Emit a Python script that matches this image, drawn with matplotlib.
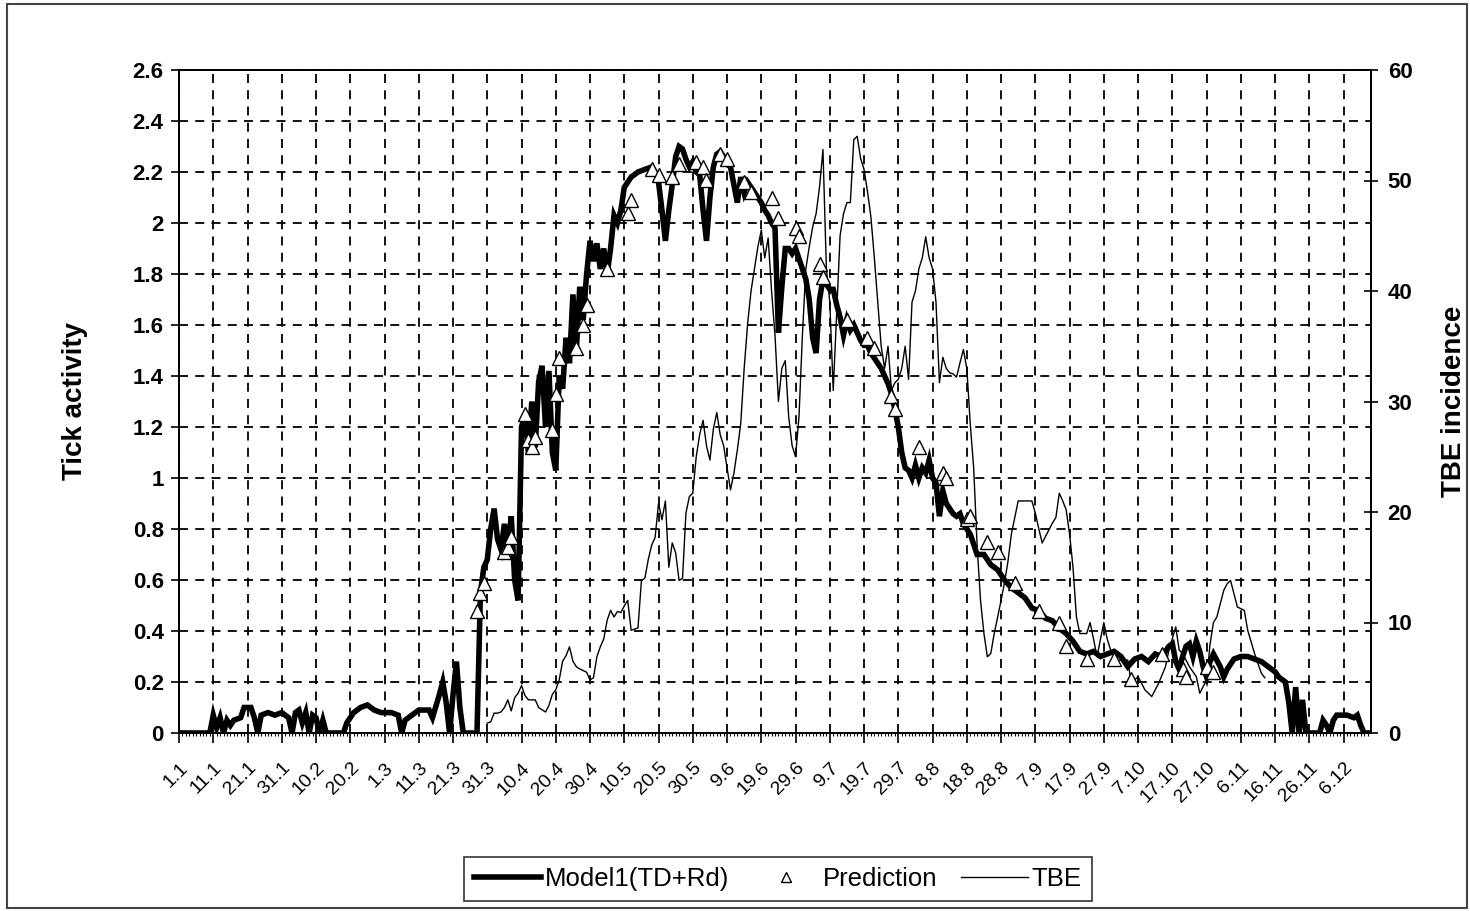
import matplotlib
matplotlib.use("Agg")
import matplotlib.pyplot as plt
from matplotlib.patches import Rectangle
from matplotlib.lines import Line2D

# day index (0 = 1.1) -> value
model_pts = [
    (0, 0), (9, 0), (10, 0.07), (11, 0.02), (12, 0.06), (13, 0.0), (14, 0.05), (15, 0.03), (16, 0.05),
    (18, 0.06), (19, 0.1), (21, 0.1), (22, 0.06), (23, 0.0), (24, 0.07), (26, 0.08), (28, 0.07),
    (30, 0.08), (32, 0.06), (33, 0.0), (34, 0.08), (35, 0.09), (36, 0.04), (37, 0.08), (38, 0.0),
    (39, 0.07), (40, 0.06), (41, 0.0), (42, 0.05), (43, 0.0), (48, 0.0), (49, 0.04), (51, 0.08),
    (53, 0.1), (55, 0.11), (57, 0.09), (59, 0.08), (62, 0.08), (64, 0.07), (65, 0.0), (66, 0.05),
    (68, 0.07), (70, 0.09), (73, 0.09), (74, 0.06), (76, 0.15), (77, 0.2), (78, 0.12), (79, 0.0),
    (80, 0.15), (81, 0.28), (82, 0.1), (83, 0.0), (87, 0.0), (88, 0.55), (89, 0.65), (90, 0.68),
    (91, 0.8), (92, 0.88), (93, 0.76), (94, 0.72), (95, 0.82), (96, 0.72), (97, 0.85), (98, 0.6),
    (99, 0.52), (100, 1.2), (101, 1.25), (102, 1.1), (103, 1.3), (104, 1.12), (105, 1.38), (106, 1.44),
    (107, 1.2), (108, 1.42), (109, 1.1), (110, 1.03), (111, 1.4), (112, 1.35), (113, 1.55), (114, 1.45),
    (115, 1.72), (116, 1.5), (117, 1.75), (118, 1.62), (119, 1.8), (120, 1.93), (121, 1.85), (122, 1.92),
    (123, 1.82), (124, 1.9), (125, 1.8), (126, 1.9), (127, 2.03), (128, 2.0), (129, 2.05), (130, 2.14),
    (131, 2.16), (132, 2.18), (134, 2.2), (136, 2.21), (138, 2.22), (139, 2.2), (140, 2.16), (141, 2.05),
    (142, 1.93), (143, 2.05), (144, 2.15), (145, 2.26), (146, 2.3), (147, 2.29), (148, 2.25), (149, 2.22),
    (150, 2.24), (151, 2.2), (152, 2.19), (153, 2.05), (154, 1.93), (155, 2.1), (156, 2.22), (157, 2.27),
    (158, 2.28), (159, 2.26), (160, 2.23), (161, 2.22), (162, 2.15), (163, 2.08), (164, 2.18), (165, 2.12),
    (166, 2.16), (167, 2.14), (168, 2.12), (169, 2.1), (170, 2.08), (171, 2.05), (172, 2.03), (173, 2.0),
    (174, 1.98), (175, 1.57), (176, 1.75), (177, 1.9), (178, 1.9), (179, 1.88), (180, 1.9), (181, 1.86),
    (182, 1.82), (183, 1.78), (184, 1.7), (185, 1.55), (186, 1.49), (187, 1.7), (188, 1.78), (189, 1.76),
    (190, 1.74), (191, 1.74), (192, 1.68), (193, 1.63), (194, 1.56), (195, 1.62), (196, 1.58), (197, 1.6),
    (198, 1.57), (199, 1.54), (200, 1.52), (201, 1.52), (202, 1.49), (203, 1.47), (204, 1.45), (205, 1.43),
    (206, 1.4), (207, 1.37), (208, 1.33), (209, 1.27), (210, 1.2), (211, 1.1), (212, 1.04), (213, 1.03),
    (214, 1.0), (215, 1.05), (216, 1.0), (217, 1.04), (218, 1.02), (219, 1.07), (220, 1.0), (221, 0.98),
    (222, 0.85), (223, 0.95), (224, 0.9), (225, 0.88), (226, 0.86), (227, 0.85), (228, 0.86), (229, 0.82),
    (230, 0.8), (231, 0.78), (232, 0.74), (233, 0.7), (235, 0.7), (237, 0.66), (239, 0.64), (241, 0.6),
    (243, 0.57), (245, 0.55), (247, 0.53), (249, 0.49), (251, 0.48), (253, 0.45), (255, 0.44), (257, 0.41),
    (259, 0.39), (261, 0.36), (263, 0.32), (265, 0.31), (267, 0.32), (269, 0.3), (271, 0.31), (273, 0.32),
    (275, 0.3), (277, 0.26), (279, 0.29), (281, 0.3), (283, 0.28), (285, 0.31), (287, 0.3), (289, 0.34),
    (290, 0.35), (291, 0.28), (292, 0.25), (293, 0.3), (294, 0.34), (295, 0.35), (296, 0.3), (297, 0.36),
    (298, 0.32), (299, 0.26), (300, 0.22), (301, 0.28), (302, 0.31), (304, 0.26), (305, 0.22), (306, 0.25),
    (308, 0.29), (310, 0.3), (312, 0.3), (314, 0.29), (316, 0.28), (318, 0.26), (320, 0.24), (321, 0.22),
    (322, 0.21), (323, 0.2), (324, 0.12), (325, 0.0), (326, 0.18), (327, 0.0), (328, 0.13), (329, 0.0),
    (333, 0.0), (334, 0.05), (335, 0.03), (336, 0.0), (337, 0.05), (338, 0.07), (341, 0.07), (343, 0.06),
    (344, 0.07), (345, 0.03), (346, 0.0), (347, 0.0),
]

pred_pts = [
    (87, 0.48), (88, 0.55), (89, 0.59), (95, 0.71), (96, 0.73), (97, 0.77), (101, 1.25), (102, 1.15),
    (103, 1.12), (104, 1.16), (109, 1.19), (110, 1.33), (111, 1.47), (116, 1.51), (118, 1.6), (119, 1.68),
    (125, 1.82), (131, 2.04), (132, 2.09), (138, 2.21), (140, 2.19), (144, 2.18), (146, 2.23), (151, 2.24),
    (153, 2.22), (154, 2.17), (158, 2.27), (160, 2.25), (165, 2.16), (167, 2.12), (173, 2.1), (175, 2.02),
    (180, 1.98), (181, 1.95), (187, 1.84), (188, 1.79), (195, 1.62), (201, 1.55), (203, 1.51), (208, 1.32),
    (209, 1.27), (216, 1.12), (223, 1.02), (224, 1.0), (230, 0.84), (231, 0.85), (236, 0.75), (239, 0.71),
    (244, 0.59), (251, 0.48), (257, 0.43), (259, 0.34), (265, 0.29), (273, 0.29), (278, 0.21), (287, 0.31),
    (293, 0.25), (294, 0.22), (300, 0.26), (302, 0.24),
]

tbe_pts = [
    (90, 0.9), (91, 1.0), (92, 1.8), (93, 1.8), (94, 1.9), (95, 2.3), (96, 3.0), (97, 2.0), (98, 3.2),
    (99, 3.6), (100, 4.3), (101, 3.4), (102, 3.0), (104, 3.0), (105, 2.3), (107, 1.9), (108, 2.5),
    (109, 3.5), (110, 3.9), (111, 4.8), (112, 6.5), (113, 7.0), (114, 7.8), (115, 6.5), (116, 6.0),
    (117, 5.8), (119, 5.5), (120, 4.8), (121, 5.0), (122, 6.9), (123, 7.8), (124, 8.5), (125, 10.2),
    (126, 11.1), (127, 10.5), (128, 11.0), (129, 10.9), (130, 11.5), (131, 12.0), (132, 9.3), (134, 9.5),
    (135, 13.8), (136, 14.0), (137, 15.7), (138, 17.0), (139, 17.7), (140, 20.8), (141, 19.3), (142, 21.0),
    (143, 15.0), (144, 17.2), (145, 16.3), (146, 13.8), (147, 14.0), (148, 19.9), (149, 21.4), (150, 21.7),
    (151, 25.0), (152, 27.0), (153, 28.3), (154, 26.0), (155, 24.7), (156, 27.5), (157, 29.0), (158, 27.0),
    (159, 26.0), (160, 24.0), (161, 22.0), (162, 23.5), (163, 25.6), (164, 28.0), (165, 33.0), (166, 37.0),
    (167, 40.0), (168, 42.0), (169, 44.0), (170, 45.5), (171, 43.0), (172, 44.8), (173, 40.0), (174, 36.0),
    (175, 30.0), (176, 33.0), (177, 33.7), (178, 28.6), (179, 26.0), (180, 25.0), (181, 28.6), (182, 36.0),
    (183, 42.0), (184, 44.0), (185, 45.8), (186, 47.0), (187, 49.4), (188, 52.8), (189, 42.0), (190, 39.0),
    (191, 31.0), (192, 38.0), (193, 45.0), (194, 47.0), (195, 48.0), (196, 48.0), (197, 53.7), (198, 54.0),
    (199, 52.0), (200, 51.0), (201, 49.0), (202, 46.7), (203, 43.0), (204, 39.0), (205, 35.0), (206, 33.0),
    (207, 35.0), (208, 31.0), (209, 31.7), (210, 32.0), (211, 33.0), (212, 35.0), (213, 32.0), (214, 39.0),
    (215, 40.0), (216, 42.0), (217, 43.0), (218, 44.9), (219, 43.0), (220, 42.0), (221, 39.0), (222, 31.7),
    (223, 34.0), (224, 33.0), (225, 32.6), (226, 32.5), (227, 32.2), (228, 33.5), (229, 34.7), (230, 33.0),
    (231, 28.0), (232, 24.0), (233, 17.0), (234, 12.0), (235, 9.0), (236, 6.9), (237, 7.2), (238, 9.0),
    (239, 10.5), (240, 12.0), (241, 13.6), (242, 15.5), (243, 18.0), (244, 19.5), (245, 21.0), (247, 21.0),
    (249, 21.0), (250, 19.9), (251, 18.5), (252, 17.2), (253, 17.8), (254, 18.4), (255, 19.0), (256, 19.5),
    (257, 21.7), (258, 21.0), (259, 20.2), (260, 18.0), (261, 15.0), (262, 10.5), (263, 9.0), (265, 9.0),
    (266, 10.0), (267, 8.5), (268, 6.9), (270, 10.0), (271, 8.5), (272, 7.5), (274, 6.6), (277, 6.6),
    (278, 4.5), (280, 5.1), (282, 3.9), (284, 3.3), (286, 4.5), (288, 6.0), (289, 7.5), (291, 9.6),
    (292, 7.5), (293, 7.2), (295, 6.0), (297, 5.1), (298, 3.6), (300, 4.8), (301, 8.0), (302, 10.0),
    (303, 10.5), (305, 12.9), (306, 13.5), (307, 13.8), (309, 11.4), (311, 11.1), (312, 9.3), (314, 7.2),
    (316, 5.4), (317, 5.0),
]

date_labels = ["1.1", "11.1", "21.1", "31.1", "10.2", "20.2", "1.3", "11.3", "21.3", "31.3", "10.4",
               "20.4", "30.4", "10.5", "20.5", "30.5", "9.6", "19.6", "29.6", "9.7", "19.7", "29.7",
               "8.8", "18.8", "28.8", "7.9", "17.9", "27.9", "7.10", "17.10", "27.10", "6.11", "16.11",
               "26.11", "6.12"]
left_ticks = [0, 0.2, 0.4, 0.6, 0.8, 1, 1.2, 1.4, 1.6, 1.8, 2, 2.2, 2.4, 2.6]
right_ticks = [0, 10, 20, 30, 40, 50, 60]

plt.rcParams['font.family'] = ['Liberation Sans', 'DejaVu Sans']

fig = plt.figure(figsize=(14.7, 9.11), dpi=100)
fig.patches.append(Rectangle((7 / 1470, 3 / 911), 1460 / 1470, 904 / 911, transform=fig.transFigure,
                             fill=False, edgecolor='#444444', linewidth=1.5))

ax = fig.add_axes([179 / 1470, 1 - 733 / 911, 1192 / 1470, 663 / 911])
ax2 = ax.twinx()

md, mv = zip(*model_pts)
pdays, pv = zip(*pred_pts)
td, tv = zip(*tbe_pts)

ax.plot(md, mv, color='black', linewidth=4.0, solid_joinstyle='miter', zorder=3)
ax.plot(pdays, pv, linestyle='none', marker='^', markersize=10, markerfacecolor='white',
        markeredgecolor='black', markeredgewidth=1.0, zorder=4)
ax2.plot(td, tv, color='black', linewidth=1.0)

ax.set_xlim(0, 348)
ax.set_ylim(0, 2.6)
ax2.set_ylim(0, 60)
ax.set_zorder(ax2.get_zorder() + 1)
ax.patch.set_visible(False)

ax.set_xticks(range(0, 341, 10))
ax.set_xticks(range(0, 348), minor=True)
ax.set_xticklabels(date_labels, rotation=45, ha='right', va='top', rotation_mode='anchor', fontsize=14)
ax.tick_params(axis='x', which='major', direction='out', length=7, width=1.2, pad=12)
ax.tick_params(axis='x', which='minor', direction='out', length=2.5, width=0.8)

ax.set_yticks(left_ticks)
ax.set_yticklabels([f"{t:g}" for t in left_ticks], fontsize=16, fontweight='bold')
ax.tick_params(axis='y', direction='out', length=6, width=1.2, pad=5)
ax2.set_yticks(right_ticks)
ax2.set_yticklabels([str(t) for t in right_ticks], fontsize=16, fontweight='bold')
ax2.tick_params(axis='y', direction='inout', length=10, width=1.2, pad=7)

ax.grid(True, which='major', color='black', linestyle=(0, (5, 4)), linewidth=1.3)
for sp in ax.spines.values():
    sp.set_linewidth(1.3)
for sp in ax2.spines.values():
    sp.set_linewidth(1.3)

ax.set_ylabel("Tick activity", fontsize=20, fontweight='bold')
ax.yaxis.set_label_coords(-0.076, 0.5)
ax2.set_ylabel("TBE incidence", fontsize=20, fontweight='bold')
ax2.yaxis.set_label_coords(1.059, 0.5)

handles = [
    Line2D([], [], color='black', linewidth=4.0),
    Line2D([], [], linestyle='none', marker='^', markersize=7, markerfacecolor='white',
           markeredgecolor='black', markeredgewidth=1.0),
    Line2D([], [], color='black', linewidth=1.0),
]
leg = fig.legend(handles, ["Model1(TD+Rd)", "Prediction", "TBE"], loc='center',
                 bbox_to_anchor=(778 / 1470, 1 - 879 / 911), ncol=3, frameon=True, fancybox=False,
                 prop={'size': 18.5},
                 handlelength=2.6, handletextpad=0.15, columnspacing=0.9, borderpad=0.4,
                 borderaxespad=0)
leg.get_frame().set_edgecolor('black')
leg.get_frame().set_linewidth(1.2)

fig.savefig("out.png", dpi=100)
